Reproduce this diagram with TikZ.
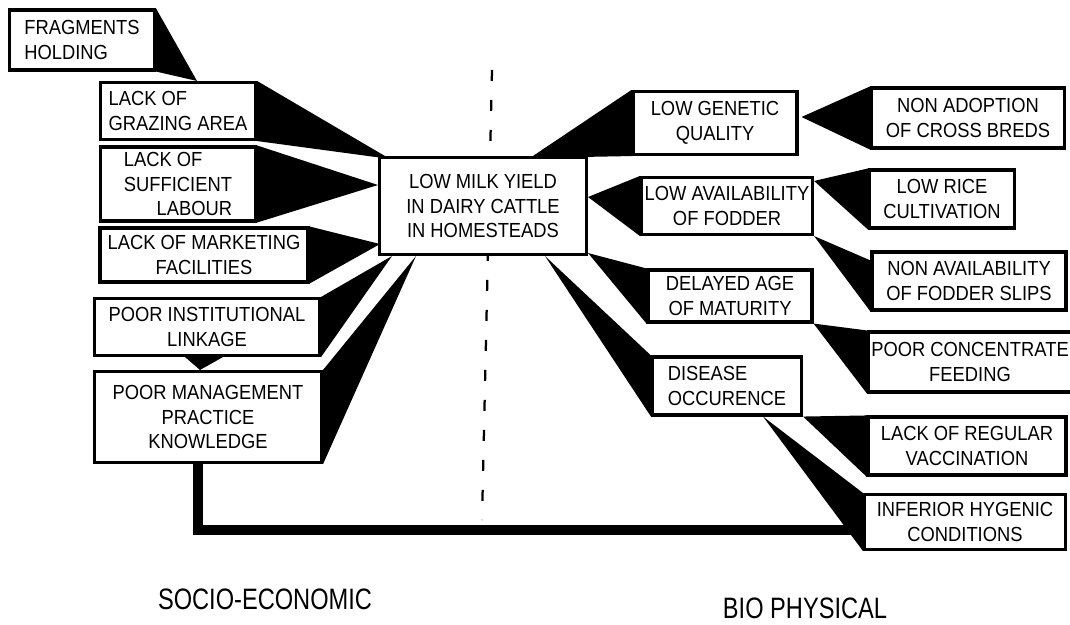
\documentclass[tikz,border=0pt]{standalone}
\usepackage{fontspec}
\setmainfont{Liberation Sans}
\newfontfamily\boxfont[FakeStretch=0.9]{Liberation Sans}
\newfontfamily\sidefont[FakeStretch=0.8]{Liberation Sans}
\usetikzlibrary{calc,backgrounds}
\newlength{\pxu}\setlength{\pxu}{0.025cm}

\begin{document}
\begin{tikzpicture}[x=0.025cm,y=-0.025cm,
    cbox/.style={draw,fill=white,line width=2.2pt,align=center,inner sep=2pt,
                 font=\boxfont\fontsize{14.5}{17.5}\selectfont},
    side/.style={font=\sidefont\fontsize{21}{24}\selectfont}]
  \useasboundingbox (0,0) rectangle (1070,624);
  \draw[line width=1.6pt,dash pattern=on 11\pxu off 19\pxu] (492,70) -- (482,520); % divider

                      % socio-economic side
  \node[cbox,align=left,minimum width=145\pxu,minimum height=60\pxu] (frag) at (82,40) {FRAGMENTS\\HOLDING};
  \node[cbox,align=left,minimum width=155\pxu,minimum height=57\pxu] (graze) at (178,111) {LACK OF\\GRAZING AREA};
  \node[cbox,align=left,minimum width=155\pxu,minimum height=74\pxu] (labour) at (178,184) {LACK OF\\SUFFICIENT\\\hspace{1.6em}LABOUR};
  \node[cbox,minimum width=208\pxu,minimum height=54\pxu] (market) at (204,255) {LACK OF MARKETING\\FACILITIES};
  \node[cbox,minimum width=225\pxu,minimum height=57\pxu] (inst) at (207,327) {POOR INSTITUTIONAL\\LINKAGE};
  \node[cbox,minimum width=227\pxu,minimum height=91\pxu] (manage) at (208,417) {POOR MANAGEMENT\\PRACTICE\\KNOWLEDGE};

  \node[cbox,minimum width=207\pxu,minimum height=97\pxu] (milk) at (483,206) {LOW MILK YIELD\\IN DAIRY CATTLE\\IN HOMESTEADS}; % centre

                      % bio-physical side
  \node[cbox,minimum width=164\pxu,minimum height=63\pxu] (genetic) at (715,123) {LOW GENETIC\\QUALITY};
  \node[cbox,minimum width=193\pxu,minimum height=60\pxu] (cross) at (968,118) {NON ADOPTION\\OF CROSS BREDS};
  \node[cbox,minimum width=171\pxu,minimum height=57\pxu] (fodder) at (727,206) {LOW AVAILABILITY\\OF FODDER};
  \node[cbox,minimum width=145\pxu,minimum height=58\pxu] (rice) at (942,199) {LOW RICE\\CULTIVATION};
  \node[cbox,minimum width=194\pxu,minimum height=58\pxu] (slips) at (969,281) {NON AVAILABILITY\\OF FODDER SLIPS};
  \node[cbox,minimum width=164\pxu,minimum height=52\pxu] (maturity) at (730,296) {DELAYED AGE\\OF MATURITY};
  \node[cbox,minimum width=196\pxu,minimum height=60\pxu] (concentrate) at (970,362) {POOR CONCENTRATE\\FEEDING};
  \node[cbox,align=left,minimum width=149\pxu,minimum height=58\pxu] (disease) at (727,386) {DISEASE\\OCCURENCE};
  \node[cbox,minimum width=198\pxu,minimum height=58\pxu] (vaccination) at (967,446) {LACK OF REGULAR\\VACCINATION};
  \node[cbox,minimum width=201\pxu,minimum height=55\pxu] (hygenic) at (965,522) {INFERIOR HYGENIC\\CONDITIONS};

  \node[side] (socio) at (265,599) {SOCIO-ECONOMIC};
  \node[side] (bio) at (805,608) {BIO PHYSICAL};

  \begin{scope}[on background layer]
                      % wedges, left
    \fill (frag.north east) -- (frag.south east) -- ($(graze.north)+(19,0)$) -- cycle;
    \fill (graze.north east) -- (graze.south east) -- ($(milk.north west)+(12,3)$) -- cycle;
    \fill (labour.north east) -- (labour.south east) -- ($(milk.west)+(0,-21)$) -- cycle;
    \fill (market.north east) -- (market.south east) -- ($(milk.south west)+(2,-12)$) -- cycle;
    \fill (inst.north east) -- (inst.south east) -- ($(milk.south west)+(14,0)$) -- cycle;
    \fill ($(inst.south)+(-22,0)$) -- ($(inst.south)+(16,0)$) -- ($(manage.north)+(-8,0)$) -- cycle;
    \fill (manage.north east) -- (manage.south east) -- ($(milk.south west)+(38,0)$) -- cycle;
    \draw[line width=7pt] ($(manage.south)+(-10,0)$) |- ($(hygenic.west)+(0,8)$); % link
                      % wedges, right
    \fill (genetic.north west) -- (genetic.south west) -- ($(milk.north)+(47,2)$) -- cycle;
    \fill (cross.north west) -- (cross.south west) -- ($(genetic.east)+(3,-6)$) -- cycle;
    \fill (fodder.north west) -- (fodder.south west) -- ($(milk.east)+(0,-9)$) -- cycle;
    \fill (rice.north west) -- (rice.south west) -- ($(fodder.north east)+(0,5)$) -- cycle;
    \fill ($(slips.north west)+(0,10)$) -- (slips.south west) -- (fodder.south east) -- cycle;
    \fill (maturity.north west) -- (maturity.south west) -- ($(milk.south east)+(0,-3)$) -- cycle;
    \fill (concentrate.north west) -- (concentrate.south west) -- (maturity.south east) -- cycle;
    \fill (disease.north west) -- (disease.south west) -- ($(milk.south)+(62,0)$) -- cycle;
    \fill (vaccination.north west) -- (vaccination.south west) -- (disease.south east) -- cycle;
    \fill (hygenic.north west) -- (hygenic.south west) -- ($(disease.south)+(36,0)$) -- cycle;
  \end{scope}
\end{tikzpicture}
\end{document}
